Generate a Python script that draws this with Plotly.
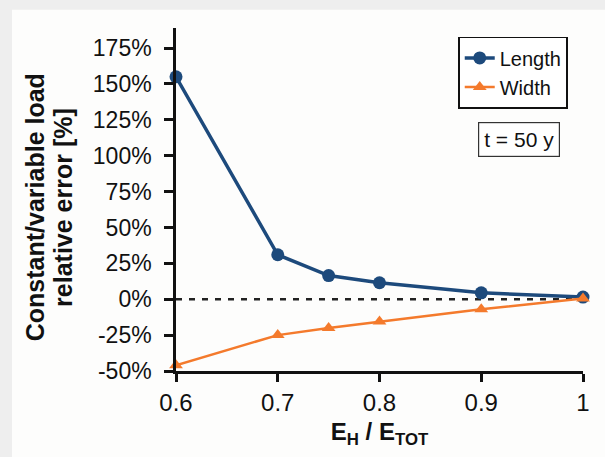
import plotly.graph_objects as go

x_vals = [0.6, 0.7, 0.75, 0.8, 0.9, 1.0]
length_err = [155, 31, 16.5, 11.5, 4.5, 1.5]
width_err = [-46, -25, -20, -15.5, -7, 0.5]
y_ticks = [-50, -25, 0, 25, 50, 75, 100, 125, 150, 175]
y_tick_text = [f"{v}%" for v in y_ticks]
x_ticks = [0.6, 0.7, 0.8, 0.9, 1.0]
x_tick_text = ["0.6", "0.7", "0.8", "0.9", "1"]
y_title_lines = ["Constant/variable load", "relative error [%]"]

FONT = "Liberation Sans, Arial, sans-serif"
BLUE = "#1d4a7c"
ORANGE = "#f47a2c"
GREY = "#eeeeee"

fig = go.Figure()
fig.add_trace(go.Scatter(
    x=x_vals, y=length_err, name="Length", mode="lines+markers",
    line=dict(color=BLUE, width=3.5),
    marker=dict(symbol="circle", size=13, color=BLUE),
    cliponaxis=False,
))
fig.add_trace(go.Scatter(
    x=x_vals, y=width_err, name="Width", mode="lines+markers",
    line=dict(color=ORANGE, width=2.5),
    marker=dict(symbol="triangle-up", size=12, color=ORANGE),
    cliponaxis=False,
))

# grey frame strips at left and top of the page
fig.add_shape(type="rect", xref="paper", yref="paper",
              x0=-0.45, x1=-0.403, y0=-0.3, y1=1.1,
              fillcolor=GREY, line=dict(width=0), layer="below")
fig.add_shape(type="rect", xref="paper", yref="paper",
              x0=-0.45, x1=1.1, y0=1.053, y1=1.1,
              fillcolor=GREY, line=dict(width=0), layer="below")

fig.add_shape(type="line", xref="x", yref="y", x0=0.6, x1=1.0, y0=0, y1=0,
              line=dict(color="#222222", width=2.5, dash="6px,7px"), layer="below")

fig.add_annotation(
    text="t = 50 y", xref="paper", yref="paper", x=0.843, y=0.675,
    xanchor="center", yanchor="middle",
    showarrow=False, font=dict(family=FONT, size=21, color="#111"),
    bordercolor="#333", borderwidth=1.2, borderpad=5, bgcolor="white",
)
for xpos, line_text in zip([-0.346, -0.278], y_title_lines):
    fig.add_annotation(
        text=f"<b>{line_text}</b>",
        xref="paper", yref="paper", x=xpos, y=0.478, textangle=-90,
        showarrow=False, font=dict(family=FONT, size=25, color="#111"),
        xanchor="center", yanchor="middle",
    )

fig.update_layout(
    width=605, height=457,
    margin=dict(l=176, r=22, t=28, b=86),
    paper_bgcolor="#fdfdfc", plot_bgcolor="rgba(0,0,0,0)",
    font=dict(family=FONT, size=21, color="#111"),
    showlegend=True,
    legend=dict(
        x=0.963, y=0.975, xanchor="right", yanchor="top",
        bordercolor="#111", borderwidth=1.8, bgcolor="white",
        font=dict(family=FONT, size=20, color="#111"),
        itemwidth=30, tracegroupgap=0,
    ),
    xaxis=dict(
        range=[0.6, 1.0], tickvals=x_ticks, ticktext=x_tick_text,
        showgrid=False, zeroline=False, showline=True, linecolor="#111", linewidth=2.5,
        ticks="outside", ticklen=8, tickwidth=2.5, tickcolor="#111",
        tickfont=dict(family=FONT, size=24),
        title=dict(text="<b>E<sub>H</sub> / E<sub>TOT</sub></b>",
                   font=dict(family=FONT, size=24), standoff=9),
    ),
    yaxis=dict(
        range=[-50, 189], tickvals=y_ticks, ticktext=y_tick_text,
        showgrid=False, zeroline=False, showline=True, linecolor="#111", linewidth=2.5,
        ticks="outside", ticklen=9, tickwidth=2.5, tickcolor="#111",
        tickfont=dict(family=FONT, size=23), ticklabelstandoff=8,
    ),
)

fig.write_html("out.html")
